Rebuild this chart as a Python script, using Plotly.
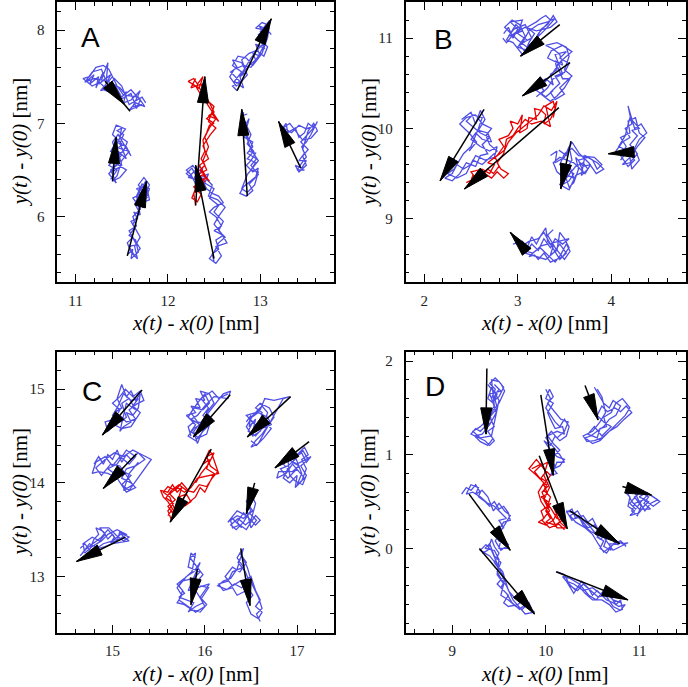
import math
import plotly.graph_objects as go

BLUE = "#4f4fe6"
RED = "#e60000"

# ---------------- Panel A ----------------
A_blue_1 = [(11.12,7.45),(11.2,7.52),(11.15,7.42),(11.25,7.5),(11.22,7.38),(11.3,7.55),(11.28,7.46),(11.35,7.65),
            (11.33,7.42),(11.4,7.5),(11.27,7.35),(11.38,7.38),(11.45,7.3),(11.42,7.42),(11.5,7.28),(11.55,7.34),
            (11.52,7.22),(11.6,7.25),(11.65,7.3),(11.7,7.35),(11.62,7.18),(11.72,7.2),(11.58,7.14),(11.65,7.22),(11.75,7.18),
            (11.68,7.28),(11.55,7.3),(11.48,7.38),(11.35,7.45),(11.2,7.48),(11.1,7.44),(11.18,7.55),(11.28,7.58),
            (11.32,7.48),(11.25,7.42),(11.38,7.52),(11.3,7.36),(11.4,7.32),(11.48,7.25),(11.6,7.32),(11.66,7.16),
            (11.7,7.25),(11.6,7.36),(11.52,7.3),(11.45,7.4),(11.36,7.58),(11.3,7.62),(11.22,7.6),(11.15,7.5),
            (11.08,7.48),(11.18,7.4),(11.26,7.44),(11.34,7.36),(11.42,7.48),(11.5,7.4),(11.58,7.2),(11.72,7.28),(11.76,7.22)]
A_blue_2 = [(11.38,6.4),(11.45,6.5),(11.36,6.55),(11.42,6.62),(11.4,6.48),(11.5,6.55),(11.46,6.7),(11.55,6.62),
            (11.48,6.78),(11.52,6.88),(11.45,6.92),(11.5,6.95),(11.47,6.82),(11.42,6.75),(11.58,6.7),(11.5,6.6),
            (11.45,6.44),(11.4,6.38),(11.48,6.42),(11.55,6.5),(11.42,6.58),(11.5,6.66),(11.38,6.7),(11.44,6.8),
            (11.55,6.75),(11.6,6.65),(11.46,6.88),(11.4,6.8),(11.47,6.6),(11.36,6.46),(11.44,6.36),
            (11.38,6.5),(11.46,6.56),(11.4,6.64),(11.52,6.7),(11.56,6.8),(11.48,6.86),(11.54,6.94),(11.44,6.98),
            (11.4,6.88),(11.5,6.78),(11.42,6.68)]
A_blue_3 = [(11.57,5.6),(11.62,5.65),(11.6,5.55),(11.68,5.62),(11.65,5.75),(11.58,5.8),(11.64,5.88),(11.6,5.95),
            (11.67,5.98),(11.63,6.05),(11.7,6.02),(11.68,6.12),(11.62,6.2),(11.72,6.25),(11.66,6.3),(11.75,6.32),
            (11.78,6.25),(11.72,6.15),(11.8,6.18),(11.76,6.38),(11.7,6.28),(11.65,6.15),(11.73,6.1),(11.8,6.3),
            (11.72,6.35),(11.66,6.22),(11.7,6.08),(11.62,6.0),(11.66,5.9),(11.58,5.85),(11.66,5.7),(11.58,5.68),
            (11.64,5.58),(11.7,5.66),(11.62,5.78),(11.56,5.72),(11.6,5.62),(11.67,5.55),(11.64,5.68),(11.7,5.78),
            (11.62,5.92),(11.69,6.05),(11.64,6.14),(11.74,6.2),(11.8,6.34),(11.74,6.42),(11.68,6.34),(11.78,6.2)]
A_blue_4 = [(12.5,5.52),(12.48,5.6),(12.55,5.65),(12.52,5.75),(12.6,5.8),(12.5,5.85),(12.58,5.9),(12.52,6.0),
            (12.45,6.05),(12.5,6.1),(12.6,6.15),(12.55,6.22),(12.48,6.25),(12.42,6.3),(12.38,6.38),(12.3,6.35),
            (12.25,6.45),(12.2,6.5),(12.27,6.55),(12.32,6.48),(12.38,6.52),(12.3,6.4),(12.22,6.42),(12.3,6.5),
            (12.36,6.42),(12.44,6.46),(12.4,6.36),(12.5,6.3),(12.45,6.2),(12.55,6.12),(12.5,6.05),(12.6,5.95),
            (12.55,5.85),(12.62,5.78),(12.55,5.72),(12.5,5.62),(12.45,5.55),(12.52,5.5),(12.58,5.58),(12.52,5.68),
            (12.64,5.72),(12.58,5.82),(12.5,5.92),(12.56,6.02),(12.62,6.1),(12.54,6.18),(12.44,6.22),(12.48,6.34),
            (12.4,6.42),(12.34,6.38),(12.26,6.52),(12.2,6.46),(12.28,6.4),(12.35,6.55)]
A_blue_5 = [(12.75,7.35),(12.7,7.4),(12.78,7.45),(12.68,7.55),(12.75,7.6),(12.7,7.68),(12.8,7.65),(12.85,7.55),
            (12.78,7.5),(12.88,7.62),(12.95,7.68),(12.92,7.75),(13.0,7.72),(12.95,7.85),(13.05,7.8),(12.98,7.95),
            (13.05,8.0),(12.95,8.02),(13.02,8.08),(13.1,8.05),(13.08,7.92),(13.02,7.75),(12.92,7.62),(12.85,7.7),
            (12.76,7.72),(12.7,7.62),(12.8,7.55),(12.72,7.45),(12.82,7.38),(12.78,7.5),(12.9,7.7),(12.98,7.8),
            (13.06,7.88),(13.0,7.98),(13.1,8.1),(13.05,7.85),(12.98,7.72),(12.9,7.6),(12.82,7.62),(12.72,7.58),
            (12.67,7.5),(12.74,7.4),(12.8,7.45),(12.86,7.52),(12.8,7.68),(12.88,7.75),(12.96,7.78),(13.04,7.72),
            (13.08,7.82),(13.0,7.9),(13.06,7.96),(12.98,8.05),(13.08,8.0),(13.12,7.95)]
A_blue_6 = [(12.82,7.12),(12.8,7.0),(12.86,6.95),(12.83,6.85),(12.92,6.8),(12.88,6.7),(12.95,6.68),(12.9,6.6),
            (12.85,6.55),(12.92,6.48),(12.98,6.52),(12.95,6.42),(12.88,6.35),(12.92,6.28),(12.85,6.22),(12.78,6.25),
            (12.82,6.32),(12.9,6.38),(12.98,6.45),(12.9,6.55),(12.96,6.62),(12.86,6.68),(12.92,6.75),(12.84,6.9),
            (12.88,7.05),(12.82,6.95),(12.9,6.72),(12.98,6.6),(12.86,6.45),(12.8,6.3),(12.86,6.26),(12.94,6.34),
            (12.98,6.48),(12.9,6.5),(12.95,6.58),(12.86,6.62),(12.93,6.7),(12.86,6.78),(12.9,6.88),(12.84,7.0),
            (12.8,7.08),(12.86,7.1)]
A_blue_7 = [(13.22,6.92),(13.28,7.0),(13.3,6.9),(13.38,6.95),(13.42,6.85),(13.48,6.9),(13.52,7.0),(13.58,6.95),
            (13.62,7.02),(13.55,6.88),(13.5,6.8),(13.45,6.75),(13.48,6.68),(13.42,6.6),(13.5,6.6),(13.45,6.52),
            (13.38,6.55),(13.42,6.48),(13.5,6.55),(13.46,6.65),(13.52,6.72),(13.44,6.8),(13.55,6.92),(13.6,6.98),
            (13.5,6.94),(13.42,6.98),(13.34,6.9),(13.25,6.95),(13.32,7.0),(13.4,6.9),(13.46,6.82),(13.55,6.84),
            (13.62,6.92),(13.58,7.0),(13.52,6.92),(13.46,6.72),(13.5,6.64),(13.44,6.56),(13.4,6.5),(13.48,6.5)]
A_red = [(12.3,6.12),(12.28,6.25),(12.35,6.3),(12.3,6.4),(12.38,6.45),(12.45,6.38),(12.35,6.5),(12.4,6.55),
         (12.36,6.62),(12.4,6.7),(12.38,6.82),(12.42,6.9),(12.45,6.98),(12.5,7.0),(12.42,7.05),(12.48,7.1),
         (12.55,7.02),(12.46,7.15),(12.43,7.2),(12.4,7.28),(12.35,7.32),(12.3,7.4),(12.22,7.45),(12.28,7.48),
         (12.32,7.42),(12.38,7.5),(12.34,7.38),(12.26,7.42),(12.38,7.35),(12.45,7.22),(12.5,7.12),(12.44,7.08),
         (12.52,7.05),(12.45,6.95),(12.4,6.85),(12.44,6.75),(12.38,6.6),(12.42,6.5),(12.32,6.45),(12.4,6.38),
         (12.3,6.3),(12.26,6.2),(12.32,6.16),(12.36,6.24),(12.28,6.32),(12.42,6.42),(12.34,6.55),(12.44,6.62),
         (12.38,6.76),(12.46,6.88),(12.52,6.95),(12.44,7.02),(12.5,7.18),(12.42,7.25),(12.36,7.42),(12.25,7.38),(12.3,7.48)]
# arrows: start x, start y, end x, end y, fraction of the way at which the head tip sits
A_arrows = [(11.32,7.45,11.59,7.13,0.78),(11.4,6.38,11.44,6.85,1.0),(11.56,5.58,11.77,6.38,1.0),
            (12.5,5.55,12.3,6.55,1.0),(12.3,6.12,12.4,7.5,1.0),(12.75,7.35,13.12,8.12,1.0),
            (12.86,6.22,12.8,7.15,1.0),(13.44,6.52,13.2,7.02,1.0)]

# ---------------- Panel B ----------------
B_blue_1 = [(2.85,11.05),(2.9,11.12),(2.95,11.0),(3.0,11.1),(2.92,11.18),(3.05,11.2),(3.0,11.05),(3.1,10.98),
            (3.02,10.92),(3.08,10.85),(3.12,10.95),(3.18,11.05),(3.1,11.12),(3.2,11.18),(3.25,11.22),(3.3,11.25),
            (3.35,11.2),(3.28,11.12),(3.22,11.05),(3.15,10.88),(3.05,10.82),(2.95,10.95),(2.88,10.98),(2.98,11.15),
            (3.05,11.08),(2.9,11.02),(2.96,11.1),(3.08,11.15),(3.15,11.0),(3.05,10.95),(3.12,11.08),(3.22,11.15),
            (3.32,11.18),(3.4,11.22),(3.3,11.1),(3.18,10.98),(3.1,10.9),(3.0,10.98),(2.9,11.08),(2.86,11.12),
            (2.94,11.2),(3.02,11.15),(3.08,11.02),(3.0,10.9),(3.12,10.86),(3.18,10.95),(3.25,11.1),(3.32,11.15),
            (3.38,11.25),(3.42,11.18),(3.35,11.12),(3.2,11.08),(3.08,11.12),(2.96,11.05),(2.88,10.95),(2.84,11.0)]
B_blue_2 = [(3.2,10.35),(3.28,10.42),(3.22,10.5),(3.3,10.55),(3.38,10.48),(3.35,10.6),(3.42,10.65),(3.4,10.75),
            (3.48,10.7),(3.45,10.82),(3.38,10.88),(3.3,10.92),(3.42,10.95),(3.52,10.9),(3.55,10.8),(3.5,10.65),
            (3.58,10.58),(3.52,10.52),(3.45,10.45),(3.5,10.38),(3.4,10.32),(3.35,10.4),(3.45,10.5),(3.4,10.58),
            (3.5,10.62),(3.55,10.72),(3.45,10.78),(3.52,10.85),(3.4,10.82),(3.48,10.6),(3.38,10.55),(3.32,10.45),
            (3.25,10.38),(3.35,10.3),(3.42,10.36),(3.5,10.45),(3.56,10.55),(3.48,10.55),(3.42,10.7),(3.5,10.78),
            (3.58,10.85),(3.48,10.92),(3.36,10.86),(3.32,10.78),(3.44,10.72),(3.38,10.62),(3.28,10.5),(3.2,10.42),
            (3.3,10.35),(3.38,10.42)]
B_blue_3 = [(2.4,10.1),(2.5,10.18),(2.55,10.05),(2.6,10.2),(2.65,10.1),(2.58,9.98),(2.68,9.95),(2.72,9.85),
            (2.62,9.88),(2.55,9.95),(2.5,9.88),(2.6,9.8),(2.7,9.75),(2.78,9.8),(2.75,9.68),(2.65,9.65),
            (2.55,9.7),(2.5,9.6),(2.42,9.55),(2.35,9.6),(2.3,9.5),(2.22,9.45),(2.3,9.42),(2.38,9.5),
            (2.45,9.62),(2.55,9.58),(2.6,9.7),(2.68,9.72),(2.62,9.82),(2.7,9.9),(2.6,9.95),(2.52,10.02),
            (2.45,10.08),(2.52,10.15),(2.62,10.12),(2.58,10.0),(2.5,9.8),(2.42,9.72),(2.32,9.55),(2.25,9.5),
            (2.35,9.45),(2.45,9.5),(2.52,9.65),(2.62,9.6),(2.72,9.7),(2.78,9.75),(2.7,9.82),(2.66,9.92),
            (2.72,10.0),(2.62,10.05),(2.55,10.15),(2.45,10.12),(2.38,10.05),(2.48,9.95),(2.56,9.85),(2.48,9.75)]
B_blue_4 = [(3.35,9.7),(3.42,9.75),(3.4,9.62),(3.5,9.68),(3.55,9.8),(3.58,9.65),(3.52,9.55),(3.6,9.5),
            (3.55,9.42),(3.48,9.38),(3.52,9.45),(3.62,9.58),(3.7,9.62),(3.75,9.55),(3.68,9.48),(3.72,9.7),
            (3.8,9.65),(3.85,9.55),(3.9,9.6),(3.82,9.68),(3.65,9.7),(3.58,9.78),(3.5,9.72),(3.45,9.6),
            (3.55,9.6),(3.6,9.45),(3.5,9.5),(3.55,9.35),(3.6,9.4),(3.65,9.55),(3.62,9.68),(3.7,9.58),
            (3.78,9.6),(3.72,9.5),(3.6,9.62),(3.45,9.68),(3.38,9.62),(3.42,9.52),(3.5,9.45),(3.45,9.38),
            (3.55,9.32),(3.62,9.48),(3.7,9.52),(3.65,9.65),(3.75,9.68),(3.85,9.62),(3.92,9.55),(3.84,9.5),
            (3.76,9.62),(3.66,9.72),(3.58,9.85),(3.52,9.7),(3.44,9.76)]
B_blue_5 = [(4.1,9.65),(4.15,9.72),(4.05,9.75),(4.12,9.85),(4.2,9.9),(4.15,10.0),(4.22,10.05),(4.18,10.25),
            (4.25,10.0),(4.32,10.05),(4.38,9.95),(4.3,9.88),(4.25,9.78),(4.3,9.65),(4.22,9.55),(4.2,9.68),(4.12,9.6),
            (4.2,9.62),(4.28,9.72),(4.2,9.82),(4.28,9.92),(4.22,9.98),(4.3,10.0),(4.2,10.12),(4.15,9.92),
            (4.08,9.8),(4.18,9.75),(4.25,9.65),(4.18,9.58),(4.1,9.7),(4.16,9.8),(4.1,9.9),(4.2,9.95),
            (4.18,10.08),(4.26,10.12),(4.3,9.95),(4.36,9.9),(4.28,9.8),(4.22,9.7)]
B_blue_6 = [(2.95,8.72),(3.05,8.75),(3.1,8.68),(3.15,8.8),(3.2,8.72),(3.25,8.82),(3.3,8.9),(3.32,8.75),
            (3.38,8.7),(3.35,8.6),(3.42,8.65),(3.45,8.85),(3.5,8.78),(3.55,8.68),(3.48,8.58),(3.42,8.55),
            (3.35,8.52),(3.28,8.62),(3.22,8.55),(3.18,8.6),(3.12,8.58),(3.25,8.7),(3.55,8.78),(3.48,8.72),
            (3.4,8.78),(3.35,8.68),(3.28,8.78),(3.22,8.65),(3.15,8.72),(3.08,8.62),(3.2,8.58),(3.3,8.55),
            (3.38,8.62),(3.45,8.72),(3.52,8.62),(3.45,8.55),(3.35,8.72),(3.28,8.85),(3.22,8.78),(3.12,8.75),
            (3.05,8.7),(2.98,8.75),(3.06,8.65),(3.16,8.62),(3.24,8.68),(3.32,8.6),(3.4,8.52),(3.46,8.6),
            (3.52,8.72),(3.56,8.64),(3.5,8.55),(3.4,8.68),(3.32,8.82),(3.38,8.88)]
B_red = [(2.45,9.4),(2.55,9.45),(2.5,9.52),(2.62,9.55),(2.7,9.5),(2.75,9.6),(2.68,9.62),(2.78,9.7),
         (2.85,9.8),(2.8,9.88),(2.9,9.92),(2.95,10.0),(2.92,10.08),(3.0,10.05),(3.05,10.15),(3.02,9.95),
         (3.1,10.0),(3.12,10.12),(3.2,10.1),(3.18,10.22),(3.25,10.2),(3.3,10.15),(3.28,10.05),(3.35,10.1),
         (3.4,10.22),(3.38,10.3),(3.3,10.25),(3.35,10.02),(3.25,10.08),(3.15,10.05),(3.08,10.1),(3.0,10.0),
         (2.95,9.92),(2.88,9.88),(2.85,9.72),(2.78,9.62),(2.82,9.55),(2.9,9.5),(2.85,9.45),(2.78,9.52),
         (2.72,9.45),(2.65,9.5),(2.55,9.42),(2.48,9.36),(2.52,9.48),(2.6,9.45),(2.68,9.55),(2.74,9.5),
         (2.8,9.58),(2.76,9.68),(2.86,9.76),(2.9,9.85),(2.98,9.95),(3.06,10.02),(3.14,10.08),(3.22,10.15),
         (3.28,10.25),(3.36,10.2),(3.42,10.3),(3.38,10.12)]
B_arrows = [(3.45,11.15,3.03,10.8,1.0),(3.56,10.73,3.05,10.36,1.0),(3.44,10.23,2.43,9.33,1.0),
            (2.64,10.21,2.17,9.42,1.0),(3.57,9.86,3.46,9.33,1.0),(4.25,9.74,3.97,9.72,1.0),
            (3.1,8.63,2.92,8.85,1.0)]

# ---------------- Panel C ----------------
C_blue_1 = [(14.95,14.6),(15.0,14.7),(15.05,14.62),(15.02,14.75),(15.1,14.8),(15.05,14.9),(15.1,15.05),(15.15,14.92),
            (15.2,14.98),(15.25,14.88),(15.3,14.95),(15.28,14.8),(15.22,14.72),(15.15,14.75),(15.2,14.65),(15.12,14.6),
            (15.08,14.55),(15.15,14.85),(15.25,14.78),(15.18,14.9),(15.1,14.85),(15.15,14.7),(15.08,14.65),(15.0,14.72),
            (15.05,14.8),(15.12,14.95),(15.2,14.88),(15.28,14.9),(15.22,14.82),(15.3,14.75),(15.2,14.6),(15.1,14.58),
            (15.02,14.62),(14.95,14.55),(14.92,14.65),(15.02,14.68),(15.08,14.78),(15.0,14.85),(15.08,14.92),
            (15.14,15.0),(15.22,14.92),(15.3,14.98),(15.34,14.88),(15.26,14.84),(15.18,14.78),(15.25,14.68),
            (15.15,14.65),(15.08,14.72)]
C_blue_2 = [(15.85,14.5),(15.82,14.6),(15.88,14.65),(15.8,14.72),(15.9,14.75),(15.85,14.82),(15.95,14.8),(15.9,14.9),
            (16.0,14.88),(15.95,14.98),(16.05,14.95),(16.1,14.85),(16.02,14.75),(16.08,14.68),(16.0,14.6),(15.95,14.5),
            (15.92,14.42),(15.88,14.55),(16.2,14.95),(16.28,14.98),(16.25,14.9),(16.1,14.92),(16.0,14.82),(15.92,14.72),
            (15.85,14.68),(15.95,14.62),(15.88,14.58),(15.82,14.5),(15.9,14.45),(15.98,14.55),(16.05,14.62),(15.92,14.65),
            (15.85,14.75),(15.92,14.85),(16.0,14.95),(16.05,14.85),(15.98,14.78),(15.88,14.8),(15.82,14.7),
            (15.9,14.62),(15.85,14.55),(15.93,14.48),(16.02,14.52),(16.06,14.65),(15.98,14.72),(16.04,14.8),
            (15.96,14.9),(16.08,14.98),(16.15,14.9),(16.25,14.95)]
C_blue_3 = [(16.45,14.65),(16.5,14.72),(16.48,14.6),(16.55,14.68),(16.52,14.55),(16.6,14.62),(16.62,14.75),(16.55,14.8),
            (16.6,14.85),(16.7,14.8),(16.75,14.7),(16.68,14.6),(16.62,14.52),(16.55,14.45),(16.5,14.38),(16.58,14.42),
            (16.8,14.82),(16.85,14.9),(16.92,14.92),(16.75,14.88),(16.65,14.9),(16.6,14.78),(16.52,14.72),(16.45,14.6),
            (16.52,14.5),(16.6,14.55),(16.65,14.65),(16.55,14.62),(16.48,14.68),(16.58,14.75),(16.68,14.7),(16.72,14.62),
            (16.62,14.58),(16.55,14.5),(16.47,14.55),(16.52,14.65),(16.45,14.72),(16.55,14.75),(16.62,14.82),
            (16.68,14.75),(16.65,14.65),(16.72,14.58),(16.64,14.48),(16.56,14.4),(16.5,14.45)]
C_blue_4 = [(14.8,14.2),(14.85,14.28),(14.9,14.2),(14.95,14.3),(15.0,14.25),(15.05,14.35),(15.1,14.22),(15.15,14.3),
            (15.2,14.25),(15.28,14.32),(15.35,14.25),(15.25,14.18),(15.15,14.15),(15.1,14.05),(15.2,14.0),(15.25,13.95),
            (15.15,13.9),(15.05,14.05),(14.95,14.1),(14.85,14.12),(14.78,14.1),(14.82,14.22),(14.92,14.28),(15.0,14.18),
            (15.08,14.28),(15.18,14.2),(15.25,14.28),(15.15,14.35),(15.05,14.2),(14.95,14.15),(15.02,14.1),(15.12,14.12),
            (15.2,14.08),(15.1,13.98),(15.18,13.92),(15.25,14.02),(15.35,14.15),(15.42,14.25),(15.32,14.3),
            (15.22,14.35),(15.12,14.28),(15.02,14.32),(14.92,14.25),(14.82,14.16),(14.88,14.08),(14.98,14.2),
            (15.08,14.18),(15.15,14.08),(15.22,13.98),(15.12,13.92),(15.18,14.1),(15.28,14.22)]
C_blue_5 = [(16.48,13.92),(16.52,13.85),(16.47,13.75),(16.5,13.7),(16.42,13.62),(16.35,13.65),(16.28,13.6),(16.3,13.52),
            (16.38,13.55),(16.45,13.5),(16.5,13.58),(16.55,13.65),(16.6,13.6),(16.55,13.55),(16.48,13.62),(16.42,13.68),
            (16.35,13.58),(16.4,13.52),(16.3,13.62),(16.25,13.58),(16.35,13.7),(16.45,13.65),(16.52,13.7),(16.45,13.8),
            (16.5,13.88),(16.55,13.78),(16.5,13.6),(16.44,13.55),(16.36,13.62),(16.28,13.55),(16.34,13.5),
            (16.42,13.58),(16.48,13.68),(16.56,13.6),(16.5,13.52),(16.45,13.72),(16.52,13.82)]
C_blue_6 = [(16.85,14.2),(16.9,14.15),(16.85,14.05),(16.92,14.0),(17.0,14.08),(16.98,13.95),(17.05,14.02),(17.1,14.15),
            (17.05,14.25),(17.12,14.3),(17.08,14.38),(17.0,14.3),(16.95,14.22),(17.02,14.18),(16.95,14.12),(16.8,14.12),
            (16.78,14.05),(16.88,14.1),(16.95,14.2),(17.02,14.12),(17.08,14.05),(17.0,13.98),(17.05,14.1),(16.98,14.28),
            (17.05,14.32),(17.1,14.22),(17.15,14.28),(17.0,14.2),(16.9,14.25),(16.92,14.08),(16.98,14.02),
            (17.06,13.98),(17.1,14.08),(17.04,14.18),(17.12,14.25),(17.06,14.35),(16.98,14.25),(16.9,14.18),
            (16.82,14.15),(16.9,14.05),(17.0,14.15)]
C_blue_7 = [(14.65,13.3),(14.7,13.35),(14.75,13.28),(14.8,13.4),(14.85,13.45),(14.82,13.52),(14.9,13.48),(14.95,13.4),
            (15.0,13.45),(15.05,13.38),(15.08,13.48),(15.12,13.42),(15.18,13.38),(15.0,13.35),(14.92,13.32),(14.85,13.3),
            (14.75,13.35),(14.65,13.22),(14.72,13.3),(14.8,13.36),(14.88,13.42),(14.95,13.5),(15.02,13.42),(14.98,13.36),
            (15.08,13.4),(15.15,13.45),(15.05,13.5),(14.95,13.45),(14.88,13.38),(14.78,13.32),(14.7,13.25),
            (14.68,13.35),(14.78,13.42),(14.86,13.38),(14.92,13.45),(14.86,13.52),(14.96,13.52),(15.04,13.44),
            (15.12,13.38),(15.18,13.42),(15.1,13.46),(15.0,13.38),(14.9,13.35),(14.8,13.28)]
C_blue_8 = [(15.9,13.2),(15.85,13.25),(15.82,13.1),(15.95,13.05),(15.88,12.98),(15.75,12.95),(15.7,12.88),(15.75,12.8),
            (15.7,12.72),(15.78,12.7),(15.85,12.65),(15.95,12.62),(16.02,12.7),(15.95,12.78),(16.05,12.92),(15.92,12.88),
            (15.82,12.85),(15.95,13.15),(15.88,13.05),(15.8,13.0),(15.72,12.9),(15.78,12.82),(15.72,12.78),(15.8,12.75),
            (15.88,12.72),(15.82,12.62),(15.9,12.68),(15.98,12.72),(15.92,12.82),(15.85,12.9),(15.92,12.95),
            (15.98,13.02),(15.9,13.12),(15.84,13.2),(15.9,13.25),(15.86,13.05),(15.78,12.98),(15.7,12.92),
            (15.76,12.85),(15.72,12.75),(15.82,12.68),(15.9,12.62),(16.0,12.68),(15.96,12.76),(16.04,12.88),(15.95,12.9)]
C_blue_9 = [(16.4,13.28),(16.35,13.2),(16.42,13.1),(16.3,13.05),(16.25,12.95),(16.15,12.92),(16.2,12.85),(16.3,12.88),
            (16.35,12.8),(16.45,12.85),(16.4,12.95),(16.5,13.0),(16.55,12.85),(16.6,12.75),(16.55,12.68),(16.62,12.62),
            (16.58,12.55),(16.5,12.6),(16.45,12.72),(16.52,12.8),(16.45,12.9),(16.38,12.95),(16.3,12.9),(16.22,13.0),
            (16.3,13.1),(16.38,13.05),(16.45,13.15),(16.38,13.25),(16.42,13.3),(16.35,13.08),(16.28,12.98),(16.2,12.95),
            (16.14,12.9),(16.24,12.86),(16.32,12.92),(16.4,12.88),(16.48,12.95),(16.44,13.05),(16.36,13.15),
            (16.4,13.22),(16.46,13.1),(16.52,12.9),(16.58,12.78),(16.62,12.66),(16.56,12.6),(16.6,12.52)]
C_red = [(15.6,13.65),(15.65,13.72),(15.6,13.8),(15.55,13.85),(15.52,13.92),(15.6,13.9),(15.65,13.98),(15.7,13.9),
         (15.75,13.95),(15.72,13.85),(15.8,13.88),(15.85,13.8),(15.78,13.75),(15.9,13.85),(15.95,13.95),(16.0,13.9),
         (16.05,14.0),(16.1,14.1),(16.02,14.15),(16.05,14.25),(15.98,14.2),(16.05,14.35),(16.08,14.3),(16.15,14.1),
         (15.92,14.05),(15.85,13.95),(15.78,13.9),(15.7,13.95),(15.62,13.88),(15.68,13.82),(15.6,13.75),(15.65,13.68),
         (15.7,13.78),(15.76,13.82),(15.82,13.92),(15.75,14.0),(15.68,13.92),(15.6,13.96),(15.55,13.9),(15.62,13.85),
         (15.68,13.7),(15.64,13.6),(15.6,13.7),(15.66,13.78),(15.58,13.84),(15.64,13.92),(15.72,13.98),(15.8,13.92),
         (15.88,13.9),(15.94,13.98),(16.02,13.96),(16.08,14.05),(16.14,14.12),(16.06,14.18),(16.02,14.28),(16.1,14.32),
         (16.04,14.2),(15.96,14.1),(15.9,14.0)]
C_arrows = [(15.32,14.99,14.89,14.51,1.0),(16.275,14.94,15.875,14.49,1.0),(16.93,14.92,16.46,14.49,1.0),
            (15.26,14.31,14.9,13.94,1.0),(16.07,14.36,15.625,13.58,1.0),(16.54,14.0,16.45,13.67,1.0),
            (17.13,14.44,16.76,14.16,1.0),(15.14,13.42,14.61,13.16,1.0),(15.92,13.08,15.85,12.7,1.0),
            (16.39,13.3,16.49,12.69,1.0)]

# ---------------- Panel D ----------------
D_blue_1 = [(9.38,1.75),(9.42,1.7),(9.48,1.65),(9.45,1.58),(9.5,1.62),(9.55,1.72),(9.5,1.78),(9.42,1.8),
            (9.45,1.52),(9.4,1.45),(9.42,1.35),(9.35,1.3),(9.3,1.25),(9.25,1.28),(9.2,1.22),(9.28,1.18),
            (9.35,1.15),(9.4,1.1),(9.45,1.15),(9.38,1.25),(9.45,1.3),(9.4,1.4),(9.48,1.5),(9.45,1.62),
            (9.5,1.7),(9.45,1.75),(9.52,1.68),(9.4,1.65),(9.44,1.55),(9.38,1.6),(9.42,1.72),(9.5,1.58),
            (9.42,1.2),(9.3,1.18),(9.22,1.25),(9.3,1.3),(9.38,1.38),(9.44,1.48),(9.5,1.55),(9.56,1.68),
            (9.52,1.76),(9.46,1.82),(9.4,1.76),(9.46,1.7),(9.42,1.6),(9.47,1.45),(9.4,1.32),(9.32,1.22),
            (9.24,1.2),(9.3,1.14),(9.38,1.1),(9.44,1.18)]
D_blue_2 = [(10.0,1.7),(10.05,1.6),(10.0,1.5),(10.05,1.42),(10.1,1.35),(10.15,1.3),(10.2,1.38),(10.25,1.3),
            (10.22,1.2),(10.15,1.15),(10.1,1.2),(10.05,1.1),(9.98,1.15),(10.05,1.05),(10.12,0.98),(10.2,0.95),
            (10.15,0.88),(10.08,0.85),(10.12,0.8),(10.05,0.78),(10.1,0.88),(10.05,0.95),(10.15,1.05),(10.08,1.12),
            (10.02,1.2),(10.12,1.25),(10.2,1.22),(10.18,1.3),(10.1,1.28),(10.05,1.38),(10.02,1.45),(10.08,1.55),
            (10.0,1.6),(10.04,1.7),(10.08,1.62),(10.02,1.55),(10.1,1.45),(10.16,1.38),(10.24,1.35),(10.2,1.25),
            (10.12,1.18),(10.06,1.25),(10.0,1.18),(10.08,1.08),(10.15,1.0),(10.2,0.92),(10.12,0.92),(10.08,0.82)]
D_blue_3 = [(10.52,1.72),(10.58,1.62),(10.62,1.55),(10.68,1.5),(10.72,1.58),(10.8,1.52),(10.75,1.42),(10.68,1.38),
            (10.62,1.3),(10.55,1.25),(10.48,1.2),(10.42,1.18),(10.5,1.12),(10.58,1.15),(10.65,1.22),(10.72,1.28),
            (10.78,1.35),(10.85,1.42),(10.9,1.5),(10.82,1.6),(10.75,1.55),(10.7,1.45),(10.62,1.4),(10.65,1.3),
            (10.58,1.28),(10.55,1.18),(10.45,1.22),(10.52,1.3),(10.6,1.2),(10.7,1.3),(10.62,1.35),(10.55,1.42),
            (10.6,1.52),(10.66,1.46),(10.74,1.5),(10.8,1.46),(10.86,1.52),(10.92,1.45),(10.84,1.38),(10.76,1.3),
            (10.68,1.25),(10.6,1.18),(10.52,1.15),(10.44,1.14),(10.4,1.2),(10.5,1.25),(10.58,1.35),(10.64,1.45),
            (10.6,1.62),(10.55,1.7)]
D_blue_4 = [(10.22,0.38),(10.28,0.42),(10.32,0.32),(10.4,0.35),(10.45,0.28),(10.5,0.32),(10.55,0.22),(10.6,0.2),
            (10.55,0.12),(10.62,0.08),(10.58,0.0),(10.65,-0.05),(10.7,0.02),(10.75,0.08),(10.82,0.05),(10.88,0.06),
            (10.72,-0.02),(10.62,0.12),(10.48,0.18),(10.4,0.25),(10.35,0.35),(10.28,0.3),(10.22,0.4),(10.3,0.38),
            (10.38,0.3),(10.45,0.22),(10.52,0.25),(10.58,0.15),(10.65,0.1),(10.62,0.02),(10.7,-0.02),(10.68,0.05),
            (10.78,0.04),(10.72,0.1),(10.66,0.15),(10.58,0.1),(10.52,0.18),(10.46,0.25),(10.4,0.3),(10.34,0.4),
            (10.26,0.35),(10.32,0.28),(10.42,0.22),(10.5,0.15),(10.56,0.05),(10.62,-0.04),(10.72,0.04),(10.8,0.08),
            (10.86,0.02)]
D_blue_5 = [(10.85,0.6),(10.9,0.55),(10.88,0.45),(10.95,0.4),(10.9,0.35),(11.0,0.38),(11.05,0.45),(11.1,0.5),
            (11.0,0.55),(11.08,0.6),(11.15,0.55),(11.22,0.5),(11.15,0.45),(11.05,0.52),(10.95,0.48),(10.92,0.4),
            (10.98,0.35),(11.02,0.45),(10.95,0.55),(11.02,0.6),(11.1,0.55),(11.05,0.48),(11.12,0.42),(11.0,0.42),
            (10.92,0.5),(10.88,0.58),(10.94,0.62),(11.0,0.5),(11.06,0.4),(11.12,0.48),(11.2,0.52),(11.1,0.58),
            (11.02,0.5),(10.96,0.42),(10.9,0.48),(10.98,0.58),(11.05,0.62)]
D_blue_6 = [(9.1,0.58),(9.15,0.65),(9.2,0.62),(9.25,0.68),(9.3,0.6),(9.28,0.55),(9.35,0.5),(9.4,0.45),
            (9.45,0.5),(9.5,0.42),(9.55,0.45),(9.6,0.38),(9.62,0.3),(9.55,0.28),(9.5,0.2),(9.45,0.15),
            (9.5,0.08),(9.55,0.05),(9.6,0.0),(9.5,0.0),(9.52,0.1),(9.48,0.18),(9.55,0.22),(9.5,0.3),
            (9.58,0.32),(9.52,0.38),(9.45,0.45),(9.38,0.48),(9.3,0.55),(9.22,0.6),(9.15,0.58),(9.2,0.68),
            (9.28,0.65),(9.25,0.58),(9.32,0.62),(9.38,0.55),(9.44,0.4),(9.5,0.48),(9.56,0.4),(9.62,0.35),
            (9.56,0.25),(9.48,0.12),(9.55,0.1),(9.6,0.04),(9.52,-0.02),(9.46,0.08),(9.5,0.15)]
D_blue_7 = [(9.32,-0.05),(9.38,-0.02),(9.42,0.1),(9.45,0.02),(9.5,-0.05),(9.45,-0.15),(9.5,-0.22),(9.55,-0.3),
            (9.48,-0.38),(9.55,-0.45),(9.6,-0.5),(9.55,-0.58),(9.6,-0.62),(9.7,-0.6),(9.75,-0.55),(9.8,-0.62),
            (9.88,-0.68),(9.78,-0.7),(9.65,-0.55),(9.58,-0.4),(9.52,-0.32),(9.48,-0.25),(9.52,-0.15),(9.45,-0.08),
            (9.4,0.05),(9.35,0.0),(9.45,-0.02),(9.5,-0.12),(9.48,-0.28),(9.55,-0.38),(9.52,-0.5),(9.6,-0.55),
            (9.68,-0.62),(9.75,-0.65),(9.82,-0.58),(9.85,-0.65),(9.78,-0.6),(9.72,-0.65),(9.64,-0.58),(9.58,-0.48),
            (9.52,-0.42),(9.56,-0.35),(9.5,-0.2),(9.46,-0.1),(9.42,-0.02),(9.36,0.04),(9.3,-0.02),(9.4,-0.08),
            (9.48,-0.18),(9.54,-0.25),(9.6,-0.45),(9.66,-0.52)]
D_blue_8 = [(10.12,-0.25),(10.2,-0.28),(10.25,-0.38),(10.32,-0.45),(10.38,-0.35),(10.45,-0.42),(10.5,-0.5),(10.55,-0.45),
            (10.6,-0.5),(10.65,-0.42),(10.7,-0.52),(10.75,-0.6),(10.8,-0.55),(10.82,-0.65),(10.75,-0.68),(10.68,-0.6),
            (10.6,-0.55),(10.5,-0.55),(10.42,-0.48),(10.35,-0.4),(10.3,-0.48),(10.22,-0.35),(10.3,-0.38),(10.4,-0.45),
            (10.5,-0.42),(10.58,-0.48),(10.65,-0.55),(10.72,-0.58),(10.78,-0.62),(10.85,-0.6),(10.8,-0.66),
            (10.72,-0.62),(10.64,-0.5),(10.56,-0.52),(10.48,-0.45),(10.4,-0.38),(10.34,-0.45),(10.26,-0.4),
            (10.18,-0.3),(10.26,-0.32),(10.36,-0.38),(10.46,-0.5),(10.54,-0.55),(10.62,-0.45),(10.72,-0.55),(10.8,-0.58)]
D_red = [(9.85,0.85),(9.95,0.9),(10.0,0.82),(9.95,0.75),(10.02,0.7),(9.98,0.62),(10.05,0.55),(10.02,0.45),
         (9.95,0.4),(9.98,0.32),(9.92,0.28),(10.0,0.25),(10.08,0.3),(10.12,0.38),(10.08,0.45),(10.15,0.28),
         (10.22,0.22),(10.12,0.22),(10.05,0.35),(9.95,0.5),(9.92,0.6),(9.98,0.7),(9.9,0.78),(9.82,0.85),
         (9.9,0.95),(9.98,0.85),(10.05,0.78),(9.98,0.68),(10.02,0.58),(9.95,0.55),(10.05,0.48),(10.0,0.4),
         (10.05,0.32),(10.0,0.28),(10.1,0.25),(10.18,0.3),(10.12,0.32),(10.06,0.42),(10.0,0.5),(9.96,0.6),
         (10.02,0.66),(9.96,0.72),(9.88,0.82),(9.94,0.88),(10.02,0.92),(9.98,0.78),(10.04,0.65),(9.98,0.52),
         (10.04,0.4),(9.96,0.3),(10.04,0.22),(10.14,0.26),(10.2,0.2)]
D_arrows = [(9.37,1.92,9.36,1.22,1.0),(9.947,1.64,10.08,0.78,1.0),(10.42,1.74,10.56,1.37,1.0),
            (9.93,0.99,10.23,0.21,1.0),(10.26,0.40,10.79,0.05,1.0),(10.82,0.66,11.13,0.57,1.0),
            (9.18,0.58,9.62,-0.02,1.0),(9.29,0.0,9.88,-0.7,1.0),(10.11,-0.25,10.88,-0.55,1.0)]

# axis ranges and tick labels per panel
A_xrange, A_yrange = [10.8, 13.8], [5.3, 8.3]
B_xrange, B_yrange = [1.8, 4.8], [8.3, 11.4]
C_xrange, C_yrange = [14.4, 17.4], [12.4, 15.4]
D_xrange, D_yrange = [8.5, 11.5], [-0.9, 2.1]
A_xticks, A_yticks = [11, 12, 13], [6, 7, 8]
B_xticks, B_yticks = [2, 3, 4], [9, 10, 11]
C_xticks, C_yticks = [15, 16, 17], [13, 14, 15]
D_xticks, D_yticks = [9, 10, 11], [0, 1, 2]

panels = [
    ("A", [A_blue_1, A_blue_2, A_blue_3, A_blue_4, A_blue_5, A_blue_6, A_blue_7], A_red, A_arrows,
     A_xrange, A_yrange, A_xticks, A_yticks),
    ("B", [B_blue_1, B_blue_2, B_blue_3, B_blue_4, B_blue_5, B_blue_6], B_red, B_arrows,
     B_xrange, B_yrange, B_xticks, B_yticks),
    ("C", [C_blue_1, C_blue_2, C_blue_3, C_blue_4, C_blue_5, C_blue_6, C_blue_7, C_blue_8, C_blue_9], C_red, C_arrows,
     C_xrange, C_yrange, C_xticks, C_yticks),
    ("D", [D_blue_1, D_blue_2, D_blue_3, D_blue_4, D_blue_5, D_blue_6, D_blue_7, D_blue_8], D_red, D_arrows,
     D_xrange, D_yrange, D_xticks, D_yticks),
]

W, H = 688, 687
# pixel boxes of the four plot areas (left, right, top, bottom)
boxes = [(57.3, 335.0, 2.0, 282.0), (406.7, 688.0, 2.0, 282.0),
         (57.3, 335.0, 351.7, 632.7), (406.7, 688.0, 351.7, 632.7)]
letter_pos = [(79, 38), (433, 39), (80, 391), (424, 386)]

HEAD_LEN = 0.28
HEAD_HALF = 0.06


def seg(points):
    return [p[0] for p in points], [p[1] for p in points]


def arrow_geometry(arrows):
    lx, ly, hx, hy = [], [], [], []
    for x0, y0, x1, y1, f in arrows:
        lx += [x0, x1, None]
        ly += [y0, y1, None]
        dx, dy = x1 - x0, y1 - y0
        n = math.hypot(dx, dy)
        ux, uy = dx / n, dy / n
        tx, ty = x0 + f * dx, y0 + f * dy
        L = min(HEAD_LEN, n * 0.98)
        bx, by = tx - L * ux, ty - L * uy
        px, py = -uy * HEAD_HALF, ux * HEAD_HALF
        hx += [tx, bx + px, bx - px, tx, None]
        hy += [ty, by + py, by - py, ty, None]
    return lx, ly, hx, hy


fig = go.Figure()
layout = dict(width=W, height=H, margin=dict(l=0, r=0, t=0, b=0),
              paper_bgcolor="white", plot_bgcolor="white", showlegend=False)
annotations = []
serif = "Liberation Serif, Times New Roman, serif"

for i, (name, blues, red, arrows, xr, yr, xt, yt) in enumerate(panels):
    k = "" if i == 0 else str(i + 1)
    xa, ya = "x" + k, "y" + k
    for tr in blues:
        x, y = seg(tr)
        fig.add_trace(go.Scatter(x=x, y=y, mode="lines", line=dict(color=BLUE, width=1.3),
                                 xaxis=xa, yaxis=ya, hoverinfo="skip"))
    x, y = seg(red)
    fig.add_trace(go.Scatter(x=x, y=y, mode="lines", line=dict(color=RED, width=1.3),
                             xaxis=xa, yaxis=ya, hoverinfo="skip"))
    lx, ly, hx, hy = arrow_geometry(arrows)
    fig.add_trace(go.Scatter(x=lx, y=ly, mode="lines", line=dict(color="black", width=1.5),
                             xaxis=xa, yaxis=ya, hoverinfo="skip"))
    fig.add_trace(go.Scatter(x=hx, y=hy, mode="lines", fill="toself", fillcolor="black",
                             line=dict(color="black", width=1), xaxis=xa, yaxis=ya, hoverinfo="skip"))

    l, r, t, b = boxes[i]
    axis_common = dict(showline=True, linecolor="black", linewidth=1.5, mirror="allticks",
                       ticks="inside", ticklen=8, tickwidth=1.2, tickcolor="black",
                       showgrid=False, zeroline=False,
                       tickfont=dict(family=serif, size=15, color="#222"),
                       minor=dict(ticks="inside", ticklen=4, dtick=0.2, tickwidth=1, tickcolor="black",
                                  showgrid=False))
    layout["xaxis" + k] = dict(axis_common, range=xr, tickvals=xt, domain=[l / W, r / W],
                               anchor=ya, ticklabelstandoff=4)
    layout["yaxis" + k] = dict(axis_common, range=yr, tickvals=yt, domain=[1 - b / H, 1 - t / H],
                               anchor=xa, ticklabelstandoff=8)
    cx = (l + r) / 2 if i in (0, 2) else 547
    cy = (t + b) / 2
    annotations.append(dict(xref="paper", yref="paper", x=cx / W, y=1 - (b + 41) / H,
                            text="<i>x(t)</i> - <i>x(0)</i> [nm]", showarrow=False,
                            xanchor="center", yanchor="middle",
                            font=dict(family=serif, size=21, color="black")))
    annotations.append(dict(xref="paper", yref="paper", x=(l - 37) / W, y=1 - cy / H,
                            text="<i>y(t)</i> - <i>y(0)</i> [nm]", showarrow=False, textangle=-90,
                            xanchor="center", yanchor="middle",
                            font=dict(family=serif, size=21, color="black")))
    lxp, lyp = letter_pos[i]
    annotations.append(dict(xref="paper", yref="paper", x=lxp / W, y=1 - lyp / H, text=name,
                            showarrow=False, xanchor="left", yanchor="middle",
                            font=dict(family="Liberation Sans, Arial, sans-serif", size=28, color="black")))

layout["annotations"] = annotations
fig.update_layout(**layout)
fig.write_html("out.html", config={"displayModeBar": False},
               post_script="document.body.style.margin='0';document.body.style.overflow='hidden';")
